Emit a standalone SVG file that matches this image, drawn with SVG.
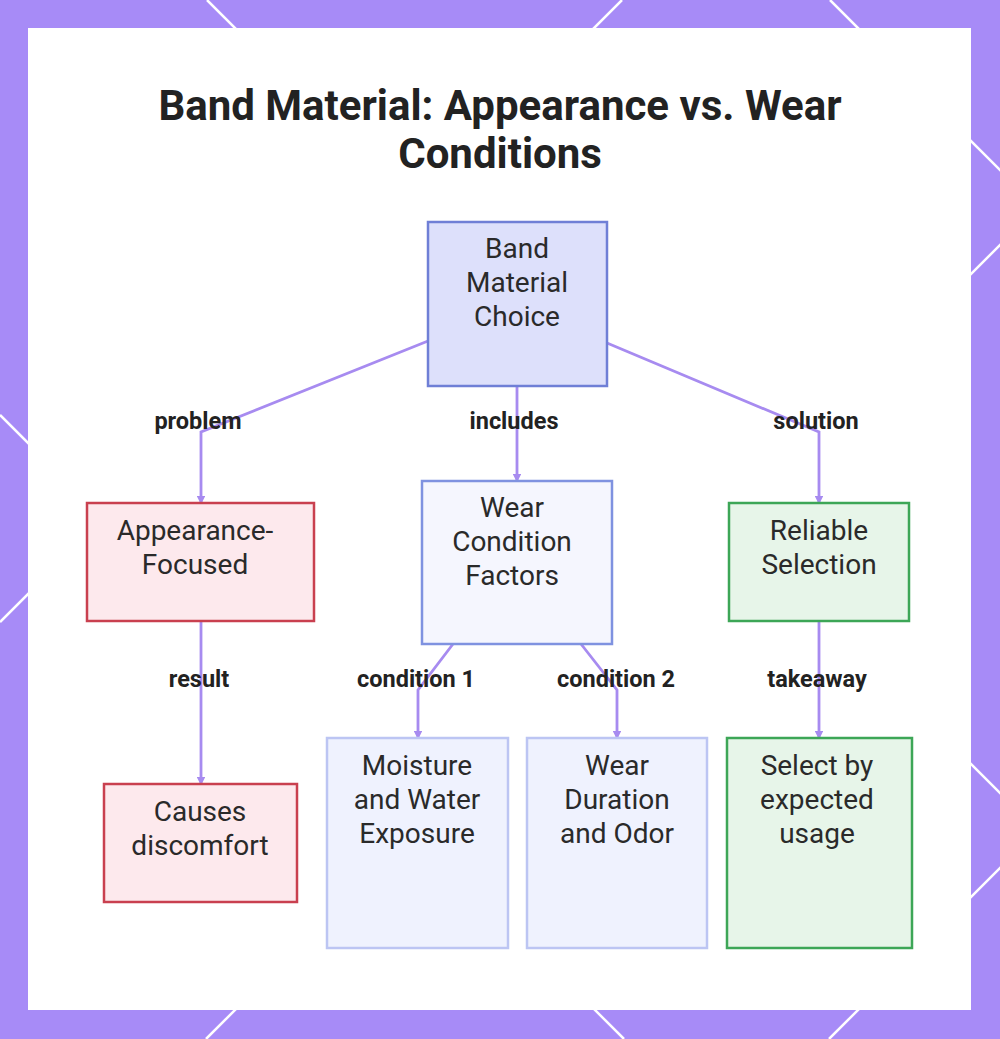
<svg xmlns="http://www.w3.org/2000/svg" width="1000" height="1039" viewBox="0 0 1000 1039">
<style>
.bg-line{stroke:#ffffff;stroke-width:2.5;fill:none}
.title{font-family:Roboto,"Liberation Sans",sans-serif;font-weight:700;font-size:42px;fill:#222222;text-anchor:middle}
.nt{font-family:Roboto,"Liberation Sans",sans-serif;font-size:28px;fill:#2a2a2a;text-anchor:middle}
.lbl{font-family:Roboto,"Liberation Sans",sans-serif;font-weight:700;font-size:23.5px;fill:#222222;text-anchor:middle}
.edge{stroke:#a78bf0;stroke-width:2.8;fill:none;marker-end:url(#ah)}
.core{fill:#dde0fb;stroke:#6f7fd6;stroke-width:2.5}
.prob{fill:#fde9ed;stroke:#c9404f;stroke-width:2.5}
.info{fill:#f5f6fe;stroke:#7f92e0;stroke-width:2.5}
.sub{fill:#eff2fe;stroke:#bcc5f3;stroke-width:2.5}
.good{fill:#e7f5e9;stroke:#3da657;stroke-width:2.5}
</style>
<defs>
<marker id="ah" viewBox="0 0 6 6" refX="5" refY="3" markerWidth="3" markerHeight="3" orient="auto">
<path d="M0,0 L6,3 L0,6 z" fill="#a78bf0"/>
</marker>
</defs>
<g id="background">
<rect x="0" y="0" width="1000" height="1039" fill="#a78bf7"/>
<line class="bg-line" x1="830" y1="0" x2="1869" y2="1039"/>
<line class="bg-line" x1="207" y1="0" x2="1246" y2="1039"/>
<line class="bg-line" x1="0" y1="415" x2="624" y2="1039"/>
<line class="bg-line" x1="622" y1="0" x2="0" y2="622"/>
<line class="bg-line" x1="1245" y1="0" x2="206" y2="1039"/>
<line class="bg-line" x1="1868" y1="0" x2="829" y2="1039"/>
<rect x="28" y="28" width="943" height="982" fill="#ffffff"/>
</g>
<g id="title">
<text class="title" x="500" y="120">Band Material: Appearance vs. Wear</text>
<text class="title" x="500" y="168">Conditions</text>
</g>
<g id="connectors">
<path class="edge" d="M428,341 L201,432 L201,503"/>
<path class="edge" d="M517,386 L517,481"/>
<path class="edge" d="M607,343 L819,432 L819,503"/>
<path class="edge" d="M201,621 L201,784"/>
<path class="edge" d="M453,644 L418,690 L418,738"/>
<path class="edge" d="M581,644 L617,690 L617,738"/>
<path class="edge" d="M819,621 L819,738"/>
<text class="lbl" x="198" y="429">problem</text>
<text class="lbl" x="514" y="429">includes</text>
<text class="lbl" x="816" y="429">solution</text>
<text class="lbl" x="199" y="687">result</text>
<text class="lbl" x="416" y="687">condition 1</text>
<text class="lbl" x="616" y="687">condition 2</text>
<text class="lbl" x="817" y="687">takeaway</text>
</g>
<g id="node-band-material-choice">
<rect class="core" x="428" y="222" width="179" height="164"/>
<text class="nt" x="517" y="258">Band</text>
<text class="nt" x="517" y="292">Material</text>
<text class="nt" x="517" y="326">Choice</text>
</g>
<g id="node-appearance-focused">
<rect class="prob" x="87" y="503" width="227" height="118"/>
<text class="nt" x="195" y="540">Appearance-</text>
<text class="nt" x="195" y="574">Focused</text>
</g>
<g id="node-wear-condition-factors">
<rect class="info" x="422" y="481" width="190" height="163"/>
<text class="nt" x="512" y="517">Wear</text>
<text class="nt" x="512" y="551">Condition</text>
<text class="nt" x="512" y="585">Factors</text>
</g>
<g id="node-reliable-selection">
<rect class="good" x="729" y="503" width="180" height="118"/>
<text class="nt" x="819" y="540">Reliable</text>
<text class="nt" x="819" y="574">Selection</text>
</g>
<g id="node-causes-discomfort">
<rect class="prob" x="104" y="784" width="193" height="118"/>
<text class="nt" x="200" y="821">Causes</text>
<text class="nt" x="200" y="855">discomfort</text>
</g>
<g id="node-moisture">
<rect class="sub" x="327" y="738" width="181" height="210"/>
<text class="nt" x="417" y="775">Moisture</text>
<text class="nt" x="417" y="809">and Water</text>
<text class="nt" x="417" y="843">Exposure</text>
</g>
<g id="node-wear-duration">
<rect class="sub" x="527" y="738" width="180" height="210"/>
<text class="nt" x="617" y="775">Wear</text>
<text class="nt" x="617" y="809">Duration</text>
<text class="nt" x="617" y="843">and Odor</text>
</g>
<g id="node-select-by-usage">
<rect class="good" x="727" y="738" width="185" height="210"/>
<text class="nt" x="817" y="775">Select by</text>
<text class="nt" x="817" y="809">expected</text>
<text class="nt" x="817" y="843">usage</text>
</g>
</svg>
